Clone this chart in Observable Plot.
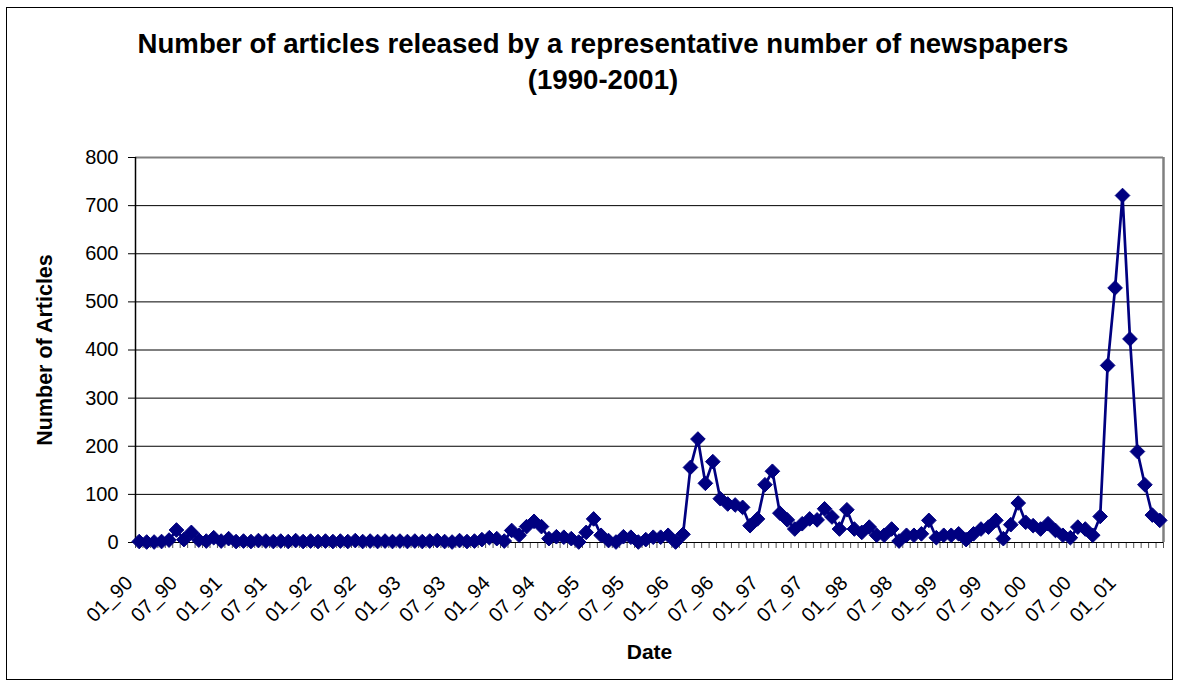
<!DOCTYPE html>
<html>
<head>
<meta charset="utf-8">
<script src="https://cdn.jsdelivr.net/npm/d3@7"></script>
<script src="https://cdn.jsdelivr.net/npm/@observablehq/plot@0.6"></script>
<style>
  body { margin: 0; background: #fff; font-family: "Liberation Sans", Arial, sans-serif; }
  #wrap { position: relative; width: 1181px; height: 688px; overflow: hidden; background: #fff; }
  #frame { position: absolute; left: 6px; top: 7px; width: 1167px; height: 673px; border: 1px solid #000; box-sizing: border-box; }
  #title { position: absolute; left: 0; width: 1206px; top: 26px; text-align: center; font-weight: bold; font-size: 27.6px; line-height: 36px; color: #000; }
  #chart { position: absolute; left: 0; top: 0; }
</style>
</head>
<body>
<div id="wrap">
  <div id="frame"></div>
  <div id="chart"></div>
  <div id="title">Number of articles released by a representative number of newspapers<br>(1990-2001)</div>
</div>
<script>
// Monthly article counts, January 1990 – June 2001
const v1990 = [2, 1, 1, 2, 5, 26, 6, 21, 5, 3, 10, 3];
const v1991 = [8, 2, 3, 2, 4, 3, 2, 3, 2, 4, 2, 3];
const v1992 = [2, 3, 2, 3, 2, 4, 2, 3, 2, 3, 2, 3];
const v1993 = [2, 3, 2, 3, 4, 2, 1, 4, 2, 3, 6, 10];
const v1994 = [8, 3, 25, 15, 33, 44, 33, 8, 12, 11, 8, 1];
const v1995 = [21, 49, 15, 4, 1, 12, 11, 1, 6, 11, 11, 15];
const v1996 = [1, 17, 156, 215, 123, 168, 91, 80, 78, 73, 35, 49];
const v1997 = [120, 148, 61, 47, 28, 39, 49, 47, 70, 53, 28, 68];
const v1998 = [28, 21, 32, 15, 15, 28, 3, 15, 15, 18, 46, 10];
const v1999 = [15, 15, 18, 6, 18, 28, 32, 46, 8, 37, 82, 42];
const v2000 = [35, 28, 39, 25, 15, 10, 32, 28, 15, 54, 368, 529];
const v2001 = [721, 423, 189, 120, 57, 46];

const tickLabels = ["01_90","07_90","01_91","07_91","01_92","07_92","01_93","07_93",
  "01_94","07_94","01_95","07_95","01_96","07_96","01_97","07_97","01_98","07_98",
  "01_99","07_99","01_00","07_00","01_01"];
const yTicks = [0, 100, 200, 300, 400, 500, 600, 700, 800];

const values = [].concat(v1990, v1991, v1992, v1993, v1994, v1995, v1996, v1997, v1998, v1999, v2000, v2001);
const data = values.map((v, i) => ({m: i, v}));
const n = values.length;
const labelPos = tickLabels.map((_, i) => i * 6);
const boundaries = d3.range(0, n + 1).map(k => k - 0.5);

const navy = "#000080";

const chart = Plot.plot({
  width: 1181,
  height: 688,
  marginLeft: 135,
  marginRight: 18,
  marginTop: 157,
  marginBottom: 146,
  style: { fontFamily: "'Liberation Sans', Arial, sans-serif", fontSize: "20px", background: "transparent", color: "#000" },
  x: { domain: [-0.5, n - 0.5], axis: null },
  y: { domain: [0, 800], axis: null },
  marks: [
    Plot.ruleY(yTicks.slice(1, -1), { stroke: "#000", strokeWidth: 1 }),
    Plot.ruleY([800], { stroke: "#808080", strokeWidth: 2 }),
    Plot.ruleX([n - 0.5], { stroke: "#808080", strokeWidth: 2.5 }),
    Plot.axisY({ ticks: yTicks, tickSize: 7, tickPadding: 10, label: null, fontSize: 20, stroke: "#000" }),
    Plot.axisX({ ticks: boundaries, tickSize: 6, tickFormat: () => "", label: null, stroke: "#555" }),
    Plot.axisX({ ticks: labelPos, tickSize: 0, tickRotate: -45, tickPadding: 37, dx: -10,
      tickFormat: d => tickLabels[d / 6], label: null, fontSize: 20 }),
    Plot.ruleX([-0.5], { stroke: "#000", strokeWidth: 1.5 }),
    Plot.ruleY([0], { stroke: "#000", strokeWidth: 1 }),
    Plot.line(data, { x: "m", y: "v", stroke: navy, strokeWidth: 2.7 }),
    Plot.dot(data, { x: "m", y: "v", symbol: "diamond2", r: 6.6, fill: navy, stroke: navy, strokeWidth: 1 }),
    Plot.text(["Number of Articles"], { text: d => d, frameAnchor: "left", textAnchor: "middle", dx: -90, rotate: -90, fontWeight: "bold", fontSize: 21.5 }),
    Plot.text(["Date"], { text: d => d, frameAnchor: "bottom", textAnchor: "middle", dy: 116, fontWeight: "bold", fontSize: 21 })
  ]
});
document.getElementById("chart").appendChild(chart);
</script>
</body>
</html>
